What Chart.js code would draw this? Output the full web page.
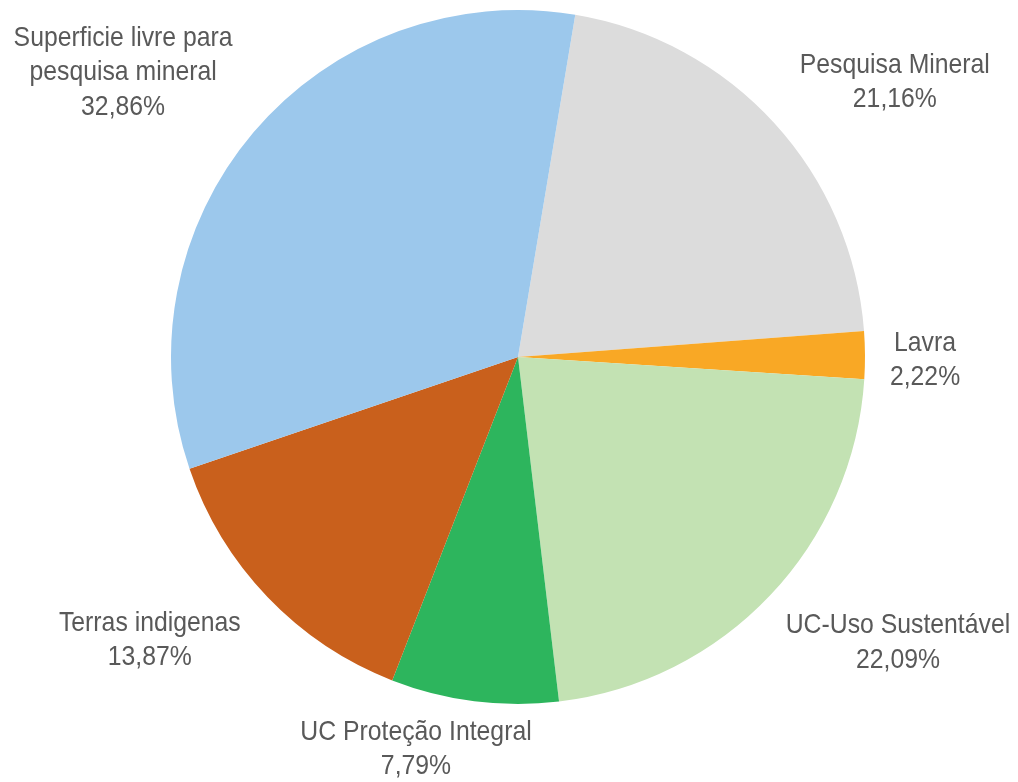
<!DOCTYPE html>
<html>
<head>
<meta charset="utf-8">
<script src="https://cdn.jsdelivr.net/npm/chart.js@4"></script>
<style>
  html, body { margin: 0; padding: 0; background: #ffffff; }
  #wrap { width: 1018px; height: 782px; position: relative; }
</style>
</head>
<body>
<div id="wrap"><canvas id="c" width="1018" height="782"></canvas></div>
<script>
const categories = [
  "Pesquisa Mineral",
  "Lavra",
  "UC-Uso Sustentável",
  "UC Proteção Integral",
  "Terras indigenas",
  "Superficie livre para pesquisa mineral"
];
const labelLines = [
  ["Pesquisa Mineral"],
  ["Lavra"],
  ["UC-Uso Sustentável"],
  ["UC Proteção Integral"],
  ["Terras indigenas"],
  ["Superficie livre para", "pesquisa mineral"]
];
const values = [21.16, 2.22, 22.09, 7.79, 13.87, 32.86];
const valueLabels = ["21,16%", "2,22%", "22,09%", "7,79%", "13,87%", "32,86%"];
const colors = ["#dcdcdc", "#f9a825", "#c3e2b3", "#2db55d", "#c9601c", "#9cc8ec"];

// label anchor positions, relative to pie centre in units of radius
const labelPos = [
  [1.086, -0.791],
  [1.173, 0.009],
  [1.095, 0.824],
  [-0.294, 1.130],
  [-1.061, 0.816],
  [-1.138, -0.820]
];

const labelPlugin = {
  id: 'outLabels',
  afterDatasetsDraw(chart) {
    const ctx = chart.ctx;
    const meta = chart.getDatasetMeta(0);
    const lh = 34.5;
    const sx = 0.885;
    ctx.save();
    ctx.fillStyle = '#595959';
    ctx.font = '28px "Liberation Sans", Arial, sans-serif';
    ctx.textAlign = 'center';
    ctx.textBaseline = 'middle';
    meta.data.forEach((arc, i) => {
      const p = arc.getProps(['x', 'y', 'outerRadius'], true);
      const cx = p.x + labelPos[i][0] * p.outerRadius;
      const cy = p.y + labelPos[i][1] * p.outerRadius;
      const lines = labelLines[i].concat([valueLabels[i]]);
      const y0 = cy - (lines.length - 1) * lh / 2;
      lines.forEach((t, k) => {
        ctx.save();
        ctx.translate(cx, y0 + k * lh);
        ctx.scale(sx, 1);
        ctx.fillText(t, 0, 0);
        ctx.restore();
      });
    });
    ctx.restore();
  }
};

new Chart(document.getElementById('c'), {
  type: 'pie',
  data: {
    labels: categories,
    datasets: [{
      data: values,
      backgroundColor: colors,
      borderWidth: 0
    }]
  },
  options: {
    responsive: false,
    animation: false,
    rotation: 9.5,
    layout: { padding: { left: 171, right: 153, top: 10, bottom: 78 } },
    plugins: {
      legend: { display: false },
      tooltip: { enabled: false }
    }
  },
  plugins: [labelPlugin]
});
</script>
</body>
</html>
